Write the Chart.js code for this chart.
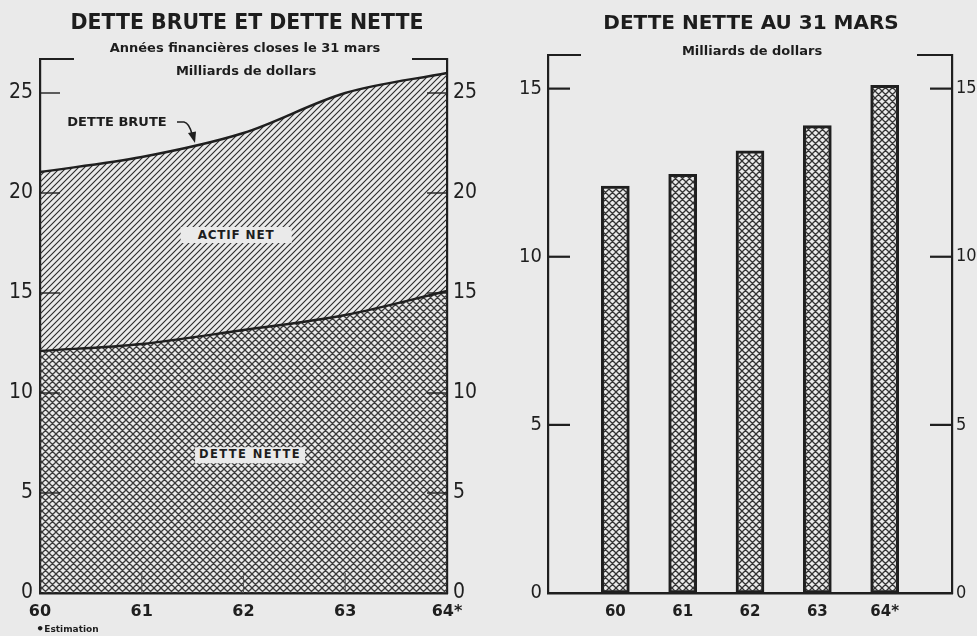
<!DOCTYPE html>
<html><head><meta charset="utf-8">
<script src="https://cdn.jsdelivr.net/npm/chart.js@4.4.1/dist/chart.umd.min.js"></script>
<style>
html,body{margin:0;padding:0;background:#eaeaea;}
#wrap{position:relative;width:977px;height:636px;overflow:hidden;background:#eaeaea;font-family:"DejaVu Sans",sans-serif;color:#1d1d1d;}
.t{position:absolute;white-space:nowrap;font-weight:bold;line-height:1;transform:translate(-50%,-50%);}
#c1{position:absolute;left:0;top:0;width:490px;height:636px;}
#c2{position:absolute;left:490px;top:0;width:487px;height:636px;}
.box{background:#eaeaea;}
</style></head><body>
<div id="wrap">
<canvas id="c1" width="490" height="636"></canvas>
<canvas id="c2" width="487" height="636"></canvas>
<div class="t" style="left:247px;top:22px;font-size:20.5px;">DETTE BRUTE ET DETTE NETTE</div>
<div class="t" style="left:245px;top:47px;font-size:13px;">Années financières closes le 31 mars</div>
<div class="t" style="left:246px;top:70px;font-size:13px;">Milliards de dollars</div>
<div class="t" style="left:751px;top:22px;font-size:20px;">DETTE NETTE AU 31 MARS</div>
<div class="t" style="left:752px;top:50px;font-size:13px;">Milliards de dollars</div>
<div class="t" style="left:117px;top:121px;font-size:13px;">DETTE BRUTE</div>
<div class="t box" style="left:236px;top:235px;font-size:12px;letter-spacing:0.8px;padding:2px 17px;">ACTIF NET</div>
<div class="t box" style="left:250px;top:455px;font-size:11.5px;letter-spacing:1.4px;padding:2px 4px;">DETTE NETTE</div>
<div style="position:absolute;left:36px;top:622px;font-size:9px;font-weight:bold;line-height:1;"><span style="font-size:13px;vertical-align:-1px;">•</span>Estimation</div>
</div>
<script>
// ---- data ----
const years = ['60', '61', '62', '63', '64*'];
const grossDebt = [21.05, 21.8, 23.0, 25.0, 26.0];
const netDebt = [12.1, 12.45, 13.15, 13.9, 15.1];
const barYears = [60, 61, 62, 63, 64];
const leftTicks = [0, 5, 10, 15, 20, 25];
const rightTicks = [0, 5, 10, 15];

const INK = '#1f1f1f';
const NUMFONT = "'Liberation Sans Narrow', 'DejaVu Sans Condensed', 'Liberation Sans', sans-serif";

function makePattern(ctx, size, lw, both, color) {
  const c = document.createElement('canvas');
  c.width = c.height = size;
  const g = c.getContext('2d');
  g.strokeStyle = color;
  g.lineWidth = lw;
  g.beginPath();
  g.moveTo(-1, size + 1); g.lineTo(size + 1, -1);
  g.moveTo(-1, 1); g.lineTo(1, -1);
  g.moveTo(size - 1, size + 1); g.lineTo(size + 1, size - 1);
  if (both) {
    g.moveTo(-1, -1); g.lineTo(size + 1, size + 1);
    g.moveTo(size - 1, -1); g.lineTo(size + 1, 1);
    g.moveTo(-1, size - 1); g.lineTo(1, size + 1);
  }
  g.stroke();
  return ctx.createPattern(c, 'repeat');
}

const decor = {
  id: 'decor',
  afterDraw(chart, args, o) {
    const { ctx, chartArea: a, scales } = chart;
    ctx.save();
    ctx.strokeStyle = INK;
    ctx.lineWidth = o.tickWidth;
    const ln = (x1, y1, x2, y2) => { ctx.beginPath(); ctx.moveTo(x1, y1); ctx.lineTo(x2, y2); ctx.stroke(); };
    scales.y.ticks.forEach(t => { if (t.value === 0) return; const y = scales.y.getPixelForValue(t.value); ln(a.left, y, a.left + o.tickLen, y); });
    scales.y2.ticks.forEach(t => { if (t.value === 0) return; const y = scales.y2.getPixelForValue(t.value); ln(a.right - o.tickLen, y, a.right, y); });
    ctx.lineWidth = 2.2;
    ln(a.left - 1, a.top, a.left + o.brL, a.top);
    ln(a.right - o.brR, a.top, a.right + 1, a.top);
    if (o.xTicks) {
      ctx.lineWidth = 1;
      ctx.strokeStyle = '#555';
      scales.x.ticks.forEach((t, i) => {
        if (i === 0 || i === scales.x.ticks.length - 1) return;
        const x = scales.x.getPixelForValue(i);
        ln(x, a.bottom, x, a.bottom - 20);
      });
    }
    if (o.arrow) {
      ctx.strokeStyle = INK; ctx.fillStyle = INK; ctx.lineWidth = 1.6;
      ctx.beginPath(); ctx.moveTo(177, 122); ctx.lineTo(184, 122);
      ctx.quadraticCurveTo(189, 123, 192, 134); ctx.stroke();
      ctx.beginPath(); ctx.moveTo(195, 143); ctx.lineTo(188, 133); ctx.lineTo(196, 131.5); ctx.closePath(); ctx.fill();
    }
    ctx.restore();
  }
};

function yScale(pos, max, ticks, width, size, pad) {
  return {
    position: pos, min: 0, max: max, z: 1,
    grid: { display: false, drawTicks: false },
    border: { display: true, color: INK, width: 2.2 },
    afterBuildTicks: s => { s.ticks = ticks.map(v => ({ value: v })); },
    afterFit: s => { s.width = width; },
    ticks: { padding: pad, color: INK, font: { family: NUMFONT, size: size } }
  };
}

// ---- left chart ----
const c1 = document.getElementById('c1');
const ctx1 = c1.getContext('2d');
new Chart(ctx1, {
  type: 'line',
  data: {
    labels: years,
    datasets: [
      { data: netDebt, fill: 'origin', backgroundColor: makePattern(ctx1, 7, 1.3, true, '#3a3a3a'),
        borderColor: INK, borderWidth: 2.4, pointRadius: 0, cubicInterpolationMode: 'monotone' },
      { data: grossDebt, fill: '-1', backgroundColor: makePattern(ctx1, 6, 1.1, false, '#2a2a2a'),
        borderColor: INK, borderWidth: 2.4, pointRadius: 0, cubicInterpolationMode: 'monotone' }
    ]
  },
  options: {
    responsive: false, animation: false, devicePixelRatio: 1,
    layout: { padding: { top: 59, left: 0, right: 0, bottom: 0 } },
    plugins: { legend: { display: false }, tooltip: { enabled: false },
      decor: { tickLen: 20, tickWidth: 1.4, brL: 34, brR: 35, xTicks: true, arrow: true } },
    scales: {
      x: { z: 1, grid: { display: false, drawTicks: false },
        border: { display: true, color: INK, width: 2.4 },
        afterFit: s => { s.height = 43; },
        ticks: { padding: 9, color: INK, maxRotation: 0, autoSkip: false,
          font: { family: 'DejaVu Sans', weight: 'bold', size: 16 } } },
      y: yScale('left', 26.7, leftTicks, 40, 21, 7),
      y2: yScale('right', 26.7, leftTicks, 43, 21, 6)
    }
  },
  plugins: [decor]
});

// ---- right chart ----
const c2 = document.getElementById('c2');
const ctx2 = c2.getContext('2d');
new Chart(ctx2, {
  type: 'bar',
  data: {
    datasets: [{
      data: barYears.map((x, i) => ({ x: x, y: netDebt[i] })),
      backgroundColor: makePattern(ctx2, 7, 1.3, true, '#333333'),
      borderColor: INK, borderWidth: 2.4, borderSkipped: false, barThickness: 28
    }]
  },
  options: {
    responsive: false, animation: false, devicePixelRatio: 1,
    layout: { padding: { top: 55, left: 0, right: 0, bottom: 0 } },
    plugins: { legend: { display: false }, tooltip: { enabled: false },
      decor: { tickLen: 22, tickWidth: 2.2, brL: 33, brR: 35, xTicks: false, arrow: false } },
    scales: {
      x: { type: 'linear', min: 59, max: 65, offset: false, z: 1,
        grid: { display: false, drawTicks: false },
        border: { display: true, color: INK, width: 2.4 },
        afterBuildTicks: s => { s.ticks = barYears.map(v => ({ value: v })); },
        afterFit: s => { s.height = 43; },
        ticks: { padding: 10, color: INK, maxRotation: 0, autoSkip: false,
          callback: v => years[barYears.indexOf(v)],
          font: { family: 'DejaVu Sans', weight: 'bold', size: 15 } } },
      y: yScale('left', 16, rightTicks, 58, 20, 6),
      y2: yScale('right', 16, rightTicks, 25, 18, 4)
    }
  },
  plugins: [decor]
});
</script>
</body></html>
